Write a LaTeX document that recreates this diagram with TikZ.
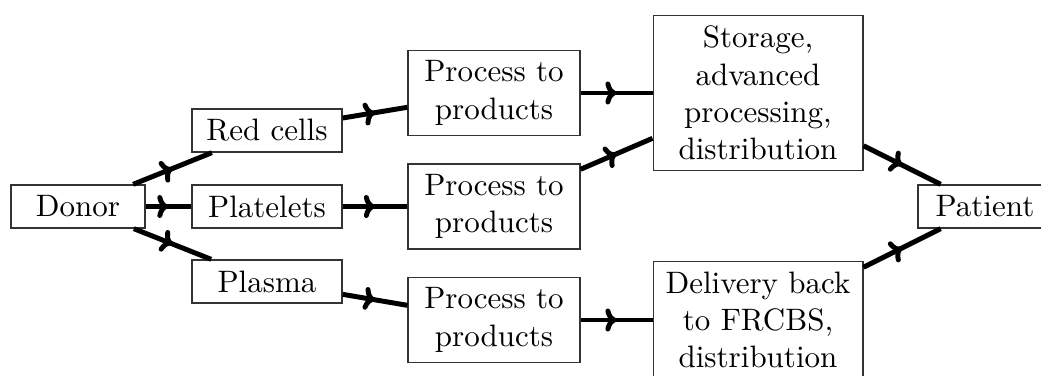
\documentclass[tikz,border=0pt]{standalone}
\usetikzlibrary{decorations.markings,arrows.meta}
\begin{document}
\begin{tikzpicture}[x=0.32258pt, y=-0.32258pt]
\tikzset{
  box/.style={draw=black!80, line width=0.4pt, align=center, inner sep=3.333pt, minimum height=13.9pt},
  party/.style={box, minimum width=43.2pt},
  component/.style={box, minimum width=48.4pt},
  proc/.style={box, text width=48.8pt},
  wide/.style={box, text width=61pt},
  flow/.style={line width=1.6pt,
    decoration={markings, mark=at position 0.5 with
      {\arrow{Computer Modern Rightarrow[length=3.6pt, width=7.4pt]}}},
    postaction={decorate}}
}
\useasboundingbox (0,0) rectangle (1041,376);
\clip (0,0) rectangle (1041,376);

% sources and sink
\node[party] (donor) at (78,206.5) {Donor};
\node[party] (patient) at (985,206.5) {Patient};

% blood components
\node[component] (red) at (267,130.5) {Red cells};
\node[component] (plt) at (267,206.5) {Platelets};
\node[component] (pla) at (267,281.5) {Plasma};

% processing
\node[proc] (p1) at (494,93) {Process to\\products};
\node[proc] (p2) at (494,206.5) {Process to\\products};
\node[proc] (p3) at (494,320) {Process to\\products};

% storage and delivery
\node[wide] (store) at (758,93) {Storage,\\advanced\\processing,\\distribution};
\node[wide] (deliv) at (758,320) {Delivery back\\to FRCBS,\\distribution};

% flows
\draw[flow] (donor) -- (red);
\draw[flow] (donor) -- (plt);
\draw[flow] (donor) -- (pla);
\draw[flow] (red) -- (p1);
\draw[flow] (plt) -- (p2);
\draw[flow] (pla) -- (p3);
\draw[flow] (p1) -- (store);
\draw[flow] (p2) -- (store);
\draw[flow] (p3) -- (deliv);
\draw[flow] (store) -- (patient);
\draw[flow] (deliv) -- (patient);
\end{tikzpicture}
\end{document}
